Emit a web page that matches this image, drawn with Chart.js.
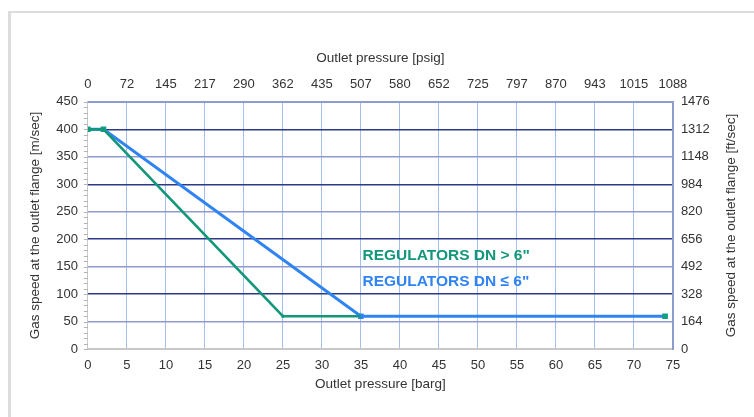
<!DOCTYPE html>
<html>
<head>
<meta charset="utf-8">
<script src="https://cdn.jsdelivr.net/npm/chart.js@4.4.0/dist/chart.umd.min.js"></script>
<style>
  html, body { margin: 0; padding: 0; background: #fff; }
  #frame { position: absolute; left: 8px; top: 11px; width: 746px; height: 406px;
           border-left: 3px solid #dcdcdc; border-top: 2px solid #dcdcdc; box-sizing: border-box; }
  #wrap { position: absolute; left: 0; top: 0; width: 743px; height: 404px; }
</style>
</head>
<body>
<div id="frame"><div id="wrap"><canvas id="myChart"></canvas></div></div>
<script>
// bottom axis [barg], left axis [m/sec]
var bargTicks = [0, 5, 10, 15, 20, 25, 30, 35, 40, 45, 50, 55, 60, 65, 70, 75];
var psigLabels = ['0', '72', '145', '217', '290', '362', '435', '507', '580', '652', '725', '797', '870', '943', '1015', '1088'];
var speedTicks = [0, 50, 100, 150, 200, 250, 300, 350, 400, 450];
var ftLabels = ['0', '164', '328', '492', '656', '820', '984', '1148', '1312', '1476'];

// REGULATORS DN <= 6"
var smallPressure = [0, 2, 35, 74];
var smallSpeed = [400, 400, 60, 60];
// REGULATORS DN > 6"
var bigPressure = [0, 2, 25, 35];
var bigSpeed = [400, 400, 60, 60];

var green = '#13977a';
var blue = '#2f84f2';
var teal = '#139f86';
var textColor = '#333333';
var fontFamily = '"Liberation Sans", Arial, sans-serif';
var rightTitle = 'Gas speed at the outlet flange [ft/sec]';

function pts(xs, ys) {
  return xs.map(function (x, i) { return { x: x, y: ys[i] }; });
}

// text labels, minor ticks and the right title (drawn reading upwards)
const extrasPlugin = {
  id: 'extras',
  afterDraw(chart) {
    var ctx = chart.ctx;
    var xs = chart.scales.x, ys = chart.scales.y, y2 = chart.scales.y2;
    ctx.save();
    // minor ticks on the left axis
    ctx.strokeStyle = '#b4b4b4';
    ctx.lineWidth = 1;
    for (var v = 0; v <= 450; v += 10) {
      var py = Math.round(ys.getPixelForValue(v)) + 0.5;
      ctx.beginPath();
      ctx.moveTo(xs.left - 4, py);
      ctx.lineTo(xs.left, py);
      ctx.stroke();
    }
    // right title
    ctx.fillStyle = textColor;
    ctx.font = '13.5px ' + fontFamily;
    ctx.textAlign = 'center';
    ctx.textBaseline = 'middle';
    ctx.translate(y2.right - 9, (ys.top + ys.bottom) / 2);
    ctx.rotate(-Math.PI / 2);
    ctx.fillText(rightTitle, 0, 0);
    ctx.restore();

    ctx.save();
    ctx.font = 'bold 15.5px ' + fontFamily;
    ctx.textBaseline = 'middle';
    ctx.fillStyle = green;
    ctx.fillText('REGULATORS DN > 6"', xs.getPixelForValue(35.2), ys.getPixelForValue(170));
    ctx.fillStyle = blue;
    ctx.fillText('REGULATORS DN \u2264 6"', xs.getPixelForValue(35.2), ys.getPixelForValue(122));
    ctx.restore();
  }
};

var ctx = document.getElementById('myChart');

new Chart(ctx, {
  type: 'line',
  data: {
    datasets: [
      {
        label: 'REGULATORS DN > 6"',
        data: pts(bigPressure, bigSpeed),
        borderColor: green,
        borderWidth: 2.5,
        pointStyle: 'rect',
        pointRadius: [0, 0, 2, 0],
        pointBackgroundColor: green,
        pointBorderWidth: 0,
        tension: 0
      },
      {
        label: 'REGULATORS DN <= 6"',
        data: pts(smallPressure, smallSpeed),
        borderColor: blue,
        borderWidth: 3,
        pointStyle: 'rect',
        pointRadius: 4,
        pointBackgroundColor: [teal, teal, blue, teal],
        pointBorderWidth: 0,
        tension: 0
      }
    ]
  },
  options: {
    responsive: true,
    maintainAspectRatio: false,
    animation: false,
    layout: { padding: { left: 12, right: 14, top: 33, bottom: 21 } },
    plugins: { legend: { display: false }, tooltip: { enabled: false } },
    scales: {
      x: {
        type: 'linear', position: 'bottom', min: 0, max: 75,
        afterBuildTicks: function (s) { s.ticks = bargTicks.map(function (v) { return { value: v }; }); },
        grid: { color: '#a4c0e8', lineWidth: 1, drawTicks: false },
        border: { color: '#c8c8c8', width: 2 },
        ticks: { color: textColor, padding: 8, font: { size: 13, family: fontFamily } },
        title: { display: true, text: 'Outlet pressure [barg]', color: textColor, padding: { top: -5 },
                 font: { size: 13.5, family: fontFamily } }
      },
      x2: {
        type: 'linear', position: 'top', min: 0, max: 75,
        afterBuildTicks: function (s) { s.ticks = bargTicks.map(function (v) { return { value: v }; }); },
        grid: { drawOnChartArea: false, drawTicks: false },
        border: { color: '#8c9ccc', width: 2 },
        ticks: { color: textColor, padding: 10,
                 callback: function (v, i) { return psigLabels[i]; },
                 font: { size: 13, family: fontFamily } },
        title: { display: true, text: 'Outlet pressure [psig]', color: textColor, padding: { bottom: 0 },
                 font: { size: 13.5, family: fontFamily } }
      },
      y: {
        type: 'linear', position: 'left', min: 0, max: 450,
        afterBuildTicks: function (s) { s.ticks = speedTicks.map(function (v) { return { value: v }; }); },
        grid: {
          drawTicks: false, lineWidth: 1.5,
          color: function (c) { return (c.tick && c.tick.value % 100 === 0) ? '#2a3a88' : '#8d9ccc'; }
        },
        border: { color: '#c8c8c8', width: 1 },
        ticks: { color: textColor, padding: 10, font: { size: 13, family: fontFamily } },
        title: { display: true, text: 'Gas speed at the outlet flange [m/sec]', color: textColor, padding: { bottom: 3 },
                 font: { size: 13.5, family: fontFamily } }
      },
      y2: {
        type: 'linear', position: 'right', min: 0, max: 450,
        afterBuildTicks: function (s) { s.ticks = speedTicks.map(function (v) { return { value: v }; }); },
        grid: { drawOnChartArea: false, drawTicks: false },
        border: { color: '#8c9ccc', width: 2 },
        ticks: { color: textColor, padding: 8,
                 callback: function (v, i) { return ftLabels[i]; },
                 font: { size: 13, family: fontFamily } },
        title: { display: true, text: rightTitle, color: 'rgba(0,0,0,0)', padding: { top: 2 },
                 font: { size: 13.5, family: fontFamily } }
      }
    }
  },
  plugins: [extrasPlugin]
});
</script>
</body>
</html>
